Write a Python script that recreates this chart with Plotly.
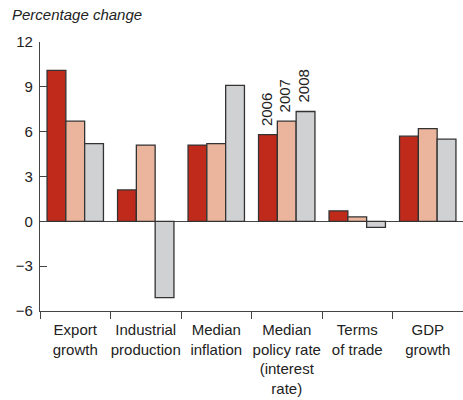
import plotly.graph_objects as go

categories = ["Export<br>growth", "Industrial<br>production", "Median<br>inflation",
              "Median<br>policy rate<br>(interest<br>rate)", "Terms<br>of trade", "GDP<br>growth"]
years = ["2006", "2007", "2008"]
v2006 = [10.1, 2.1, 5.1, 5.8, 0.7, 5.7]
v2007 = [6.7, 5.1, 5.2, 6.7, 0.3, 6.2]
v2008 = [5.2, -5.1, 9.1, 7.35, -0.4, 5.5]
colors = ["#C02A1B", "#EAB59C", "#D0D1D3"]
label_cat = 3

fig = go.Figure()
for name, vals, col in zip(years, [v2006, v2007, v2008], colors):
    fig.add_trace(go.Bar(x=categories, y=vals, name=name, marker_color=col,
                         marker_line_color="#333333", marker_line_width=1.3))

W = 463
plot_w = W - 40
bw = plot_w / 6 * (1 - 0.2) / 3
series = [v2006, v2007, v2008]
for i, name in enumerate(years):
    fig.add_annotation(x=categories[label_cat], y=series[i][label_cat], text=name,
                       textangle=-90, showarrow=False, yanchor="bottom",
                       xshift=(i - 1) * bw - 2, yshift=7,
                       font=dict(size=15, color="#222222"))

fig.update_layout(
    width=463, height=400,
    margin=dict(l=40, r=0, t=42, b=89, autoexpand=False),
    plot_bgcolor="white", paper_bgcolor="white",
    showlegend=False,
    barmode="group", bargap=0.2, bargroupgap=0,
    font=dict(family="Liberation Sans, Arial, sans-serif", size=15, color="#222222"),
    title=dict(text="<i>Percentage change</i>", x=12 / 463, xanchor="left",
               xref="container", y=1 - 15 / 400, yanchor="middle", yref="container",
               font=dict(size=15, color="#222222")),
)
fig.update_yaxes(range=[-6, 12], tickvals=[-6, -3, 0, 3, 6, 9, 12],
                 ticktext=["\u22126", "\u22123", "0", "3", "6", "9", "12"],
                 ticks="inside", ticklen=7, tickcolor="#444444", automargin=False,
                 ticklabelstandoff=3,
                 showline=True, linecolor="#444444", linewidth=1.3,
                 showgrid=False, zeroline=True, zerolinecolor="#444444", zerolinewidth=1.3,
                 tickfont=dict(size=15, color="#222222"))
fig.update_xaxes(ticks="outside", tickson="boundaries", ticklen=7, tickcolor="#444444",
                 showline=True, linecolor="#444444", linewidth=1.3, showgrid=False,
                 automargin=False, ticklabelstandoff=5,
                 tickfont=dict(size=15, color="#222222"), tickangle=0)

fig.write_html("out.html", config={"displayModeBar": False},
               post_script="document.body.style.margin='0';")
